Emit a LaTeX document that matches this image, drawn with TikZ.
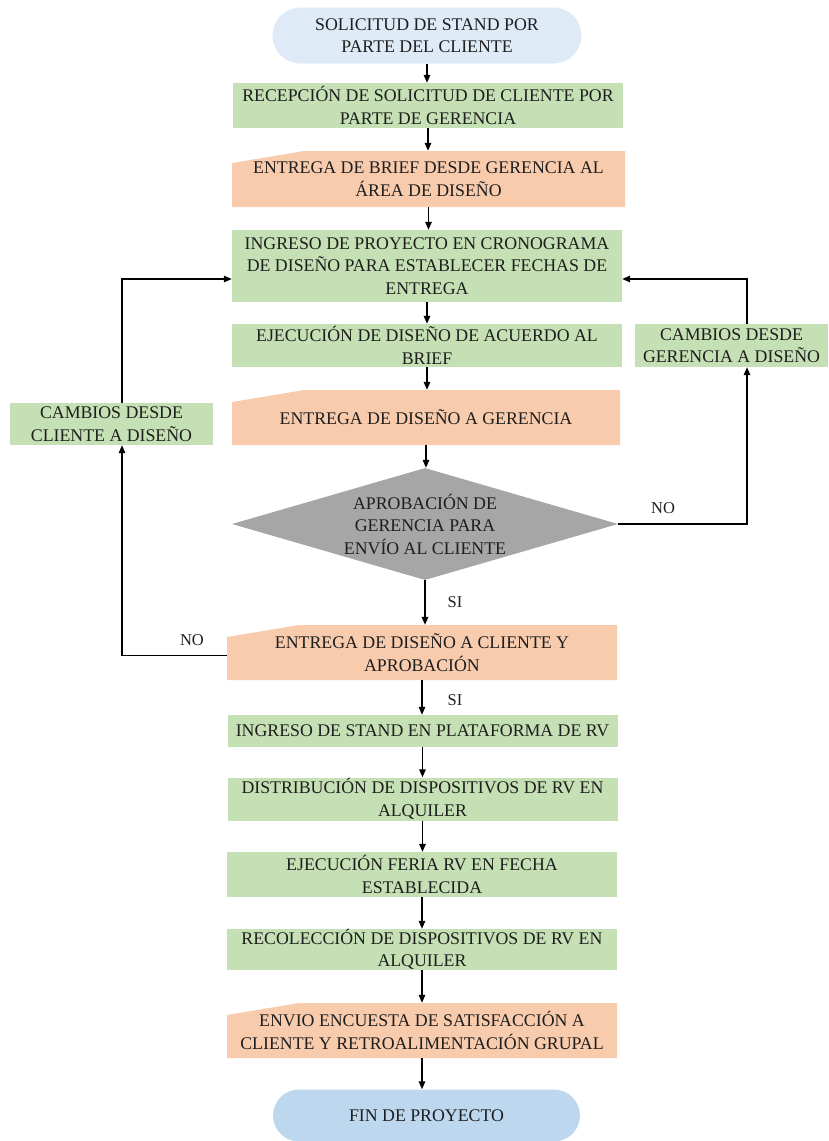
\documentclass[tikz,border=0pt]{standalone}
\usepackage{fontspec}
\setmainfont{Liberation Serif}
\usetikzlibrary{shapes.misc,shapes.geometric,arrows.meta}
\definecolor{cb}{RGB}{222, 235, 247}
\definecolor{cbb}{RGB}{189, 215, 238}
\definecolor{cg}{RGB}{197, 224, 180}
\definecolor{co}{RGB}{248, 203, 173}
\definecolor{cgr}{RGB}{166, 166, 166}
\definecolor{ct}{RGB}{30, 30, 30}

\begin{document}
\begin{tikzpicture}[
every node/.style={inner sep=0pt, text=ct, align=center, font=\fontsize{17.8pt}{22.5pt}\selectfont},
term/.style={rounded rectangle, minimum width=309pt, minimum height=56pt},
proc/.style={rectangle, fill=cg, minimum width=390pt},
manual/.style={rectangle, fill=white, minimum width=390pt, minimum height=55pt,
  path picture={\fill[co] (path picture bounding box.south west) -- ([yshift=-12pt]path picture bounding box.north west)
  -- ([xshift=72pt]path picture bounding box.north west) -- (path picture bounding box.north east)
  -- (path picture bounding box.south east) -- cycle;}},
decision/.style={diamond, aspect=3.5, fill=cgr, minimum width=386pt, minimum height=112pt},
arr/.style={line width=1.5pt, color=black, -{Triangle[length=8pt, width=6.5pt]}},
lbl/.style={font=\fontsize{16.5pt}{20pt}\selectfont}]
\useasboundingbox (0pt, 0pt) rectangle (828pt, -1141pt);
\node (1) [term, fill=cb] at (427.0pt, -35.5pt) {SOLICITUD DE STAND POR\\PARTE DEL CLIENTE};
\node (2) [proc, minimum height=45pt] at (428.0pt, -105.5pt) {RECEPCIÓN DE SOLICITUD DE CLIENTE POR\\PARTE DE GERENCIA};
\node (3) [manual, minimum width=393pt, minimum height=56pt] at (428.5pt, -179.0pt) {ENTREGA DE BRIEF DESDE GERENCIA AL\\ÁREA DE DISEÑO};
\node (4) [proc, minimum height=72pt] at (427.0pt, -266.0pt) {INGRESO DE PROYECTO EN CRONOGRAMA\\DE DISEÑO PARA ESTABLECER FECHAS DE\\ENTREGA};
\node (5) [proc, minimum height=43pt] at (427.0pt, -345.5pt) {EJECUCIÓN DE DISEÑO DE ACUERDO AL\\BRIEF};
\node (6) [manual, minimum width=388pt] at (426.0pt, -417.5pt) {ENTREGA DE DISEÑO A GERENCIA};
\node (7) [decision] at (425.0pt, -524.0pt) {APROBACIÓN DE\\GERENCIA PARA\\ENVÍO AL CLIENTE};
\node (8) [manual] at (422.0pt, -652.5pt) {ENTREGA DE DISEÑO A CLIENTE Y\\APROBACIÓN};
\node (9) [proc, minimum height=32pt] at (422.5pt, -731.0pt) {INGRESO DE STAND EN PLATAFORMA DE RV};
\node (10) [proc, minimum height=43pt] at (422.5pt, -799.0pt) {DISTRIBUCIÓN DE DISPOSITIVOS DE RV EN\\ALQUILER};
\node (11) [proc, minimum height=45pt] at (422.0pt, -874.5pt) {EJECUCIÓN FERIA RV EN FECHA\\ESTABLECIDA};
\node (12) [proc, minimum height=41pt] at (422.0pt, -949.5pt) {RECOLECCIÓN DE DISPOSITIVOS DE RV EN\\ALQUILER};
\node (13) [manual] at (422.0pt, -1030.5pt) {ENVIO ENCUESTA DE SATISFACCIÓN A\\CLIENTE Y RETROALIMENTACIÓN GRUPAL};
\node (14) [term, fill=cbb, minimum width=307pt, minimum height=52pt] at (426.5pt, -1115.5pt) {FIN DE PROYECTO};
\node (15) [proc, minimum width=203pt, minimum height=42pt] at (111.5pt, -424.0pt) {CAMBIOS DESDE\\CLIENTE A DISEÑO};
\node (16) [proc, minimum width=193pt, minimum height=43pt] at (731.5pt, -345.5pt) {CAMBIOS DESDE\\GERENCIA A DISEÑO};
\node (17) [lbl] at (455.0pt, -602.0pt) {SI};
\node (18) [lbl] at (455.0pt, -700.0pt) {SI};
\node (19) [lbl] at (663.0pt, -508.0pt) {NO};
\node (20) [lbl] at (192.0pt, -640.0pt) {NO};
\draw [arr] (1.south) to (1.south |- 2.north);
\draw [arr] (2.south) to (2.south |- 3.north);
\draw [arr] (3.south) to (3.south |- 4.north);
\draw [arr] (4.south) to (4.south |- 5.north);
\draw [arr] (5.south) to (5.south |- 6.north);
\draw [arr] (6.south) to (6.south |- 7.north);
\draw [arr] (7.south) to (7.south |- 8.north);
\draw [arr] (8.south) to (8.south |- 9.north);
\draw [arr] (9.south) to (9.south |- 10.north);
\draw [arr] (10.south) to (10.south |- 11.north);
\draw [arr] (11.south) to (11.south |- 12.north);
\draw [arr] (12.south) to (12.south |- 13.north);
\draw [arr] (13.south) to (13.south |- 14.north);
\draw [arr] ([yshift=-3pt]8.west) -| ([xshift=10.5pt]15.south);
\draw [arr] ([xshift=10.5pt]15.north) |- ([yshift=-13pt]4.west);
\draw [arr] (7.east) -| ([xshift=15.5pt]16.south);
\draw [arr] ([xshift=15.5pt]16.north) |- ([yshift=-13pt]4.east);
\end{tikzpicture}
\end{document}
